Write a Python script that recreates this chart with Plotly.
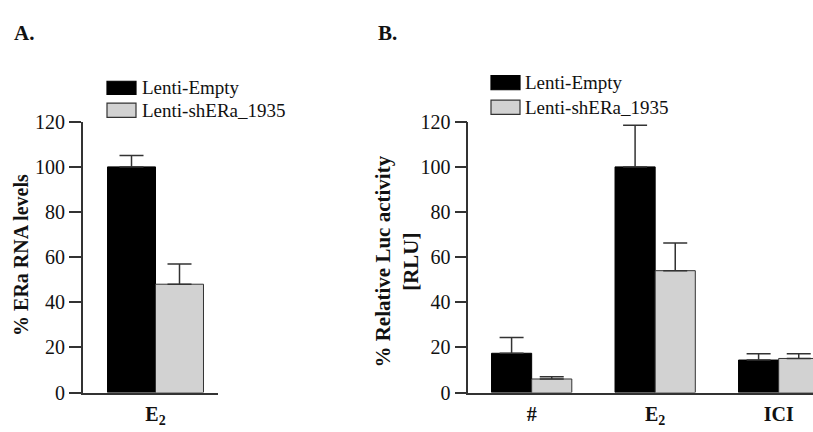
import plotly.graph_objects as go

# ---- data ----
series_names = ["Lenti-Empty", "Lenti-shERa_1935"]

cats_A = ["<b>E<sub>2</sub></b>"]
empty_A = [100]
empty_A_err = [5]
sh_A = [48]
sh_A_err = [9]

cats_B = ["<b>#</b>", "<b>E<sub>2</sub></b>", "<b>ICI</b>"]
empty_B = [17.4, 100, 14.4]
empty_B_err = [7, 18.5, 2.8]
sh_B = [6.0, 54, 15.1]
sh_B_err = [1.0, 12.3, 2.1]

y_ticks = [0, 20, 40, 60, 80, 100, 120]

W, H = 813, 432
FONT = "Liberation Serif, Times New Roman, serif"
BLACK = "#000000"
GRAY = "#d2d2d2"
LINE = "#333333"

fig = go.Figure()

def add_pair(xs, v1, e1, v2, e2, w, xa, ya):
    fig.add_trace(go.Bar(
        x=xs, y=v1, width=w, offset=-w, name=series_names[0],
        marker=dict(color=BLACK, line=dict(color=BLACK, width=1)),
        error_y=dict(type="data", symmetric=False, array=e1, arrayminus=[0]*len(e1),
                     color=LINE, thickness=1.5, width=12),
        xaxis=xa, yaxis=ya, showlegend=False))
    fig.add_trace(go.Bar(
        x=xs, y=v2, width=w, offset=0, name=series_names[1],
        marker=dict(color=GRAY, line=dict(color=LINE, width=1)),
        error_y=dict(type="data", symmetric=False, array=e2, arrayminus=[0]*len(e2),
                     color=LINE, thickness=1.5, width=12),
        xaxis=xa, yaxis=ya, showlegend=False))

xs_A = list(range(len(cats_A)))
xs_B = list(range(len(cats_B)))
add_pair(xs_A, empty_A, empty_A_err, sh_A, sh_A_err, 0.35, "x", "y")
add_pair(xs_B, empty_B, empty_B_err, sh_B, sh_B_err, 0.325, "x2", "y2")

ydom = [1 - 402 / H, 1 - 116.7 / H]
yax = dict(range=[0, 120], tickvals=y_ticks, ticks="outside", ticklen=12, tickwidth=1.5,
           tickcolor=LINE, showline=True, linecolor=LINE, linewidth=1.5,
           showgrid=False, zeroline=False, domain=ydom,
           tickfont=dict(family=FONT, size=20, color="#111"))
xax = dict(showline=True, linecolor=LINE, linewidth=1.5, ticks="", showgrid=False,
           zeroline=False, ticklabelstandoff=3,
           tickfont=dict(family=FONT, size=20, color="#111"))

fig.update_layout(
    width=W, height=H, margin=dict(l=0, r=0, t=0, b=0),
    paper_bgcolor="white", plot_bgcolor="white",
    barmode="overlay",
    xaxis=dict(xax, domain=[82.7 / W, 218.3 / W], range=[-0.531, 0.458],
               tickvals=xs_A, ticktext=cats_A, anchor="y"),
    yaxis=dict(yax, anchor="x"),
    xaxis2=dict(xax, domain=[468.3 / W, 1.0], range=[-0.513, 2.278],
                tickvals=xs_B, ticktext=cats_B, anchor="y2"),
    yaxis2=dict(yax, anchor="x2"),
)

shapes = []
annots = []

def legend(x0, x1, ys, xt):
    for (yt, yb), col, lc, name in zip(ys, [BLACK, GRAY], [BLACK, LINE], series_names):
        shapes.append(dict(type="rect", xref="paper", yref="paper",
                           x0=x0 / W, x1=x1 / W, y0=1 - yb / H, y1=1 - yt / H,
                           fillcolor=col, line=dict(color=lc, width=1.2)))
        annots.append(dict(text=name, xref="paper", yref="paper", x=xt / W,
                           y=1 - (yt + yb) / 2 / H, xanchor="left", yanchor="middle",
                           showarrow=False, font=dict(family=FONT, size=19, color="#111")))

legend(107, 136, [(74, 88), (97, 112)], 140)
legend(491, 520, [(68, 83), (94, 109)], 523)

# panel letters
annots.append(dict(text="<b>A.</b>", xref="paper", yref="paper", x=12 / W, y=1 - 23 / H,
                   xanchor="left", yanchor="middle", showarrow=False,
                   font=dict(family=FONT, size=21, color="#111")))
annots.append(dict(text="<b>B.</b>", xref="paper", yref="paper", x=376 / W, y=1 - 23 / H,
                   xanchor="left", yanchor="middle", showarrow=False,
                   font=dict(family=FONT, size=21, color="#111")))

# y titles
annots.append(dict(text="<b>% ERa RNA levels</b>", xref="paper", yref="paper",
                   x=21 / W, y=1 - 257 / H, textangle=-90, xanchor="center",
                   yanchor="middle", showarrow=False,
                   font=dict(family=FONT, size=20, color="#111")))
annots.append(dict(text="<b>% Relative Luc activity<br>[RLU]</b>", xref="paper", yref="paper",
                   x=397 / W, y=1 - 264 / H, textangle=-90, xanchor="center",
                   yanchor="middle", showarrow=False,
                   font=dict(family=FONT, size=21, color="#111")))

fig.update_layout(shapes=shapes, annotations=annots)
fig.write_html("out.html", config={"displayModeBar": False},
               post_script="document.body.style.margin='0';document.body.style.overflow='hidden';")
